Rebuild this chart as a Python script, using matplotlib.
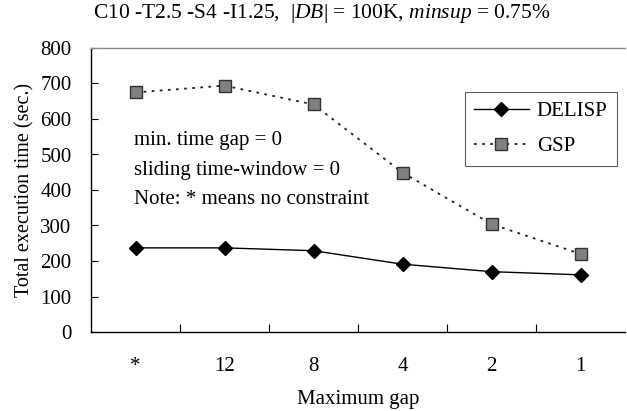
import matplotlib
matplotlib.use("Agg")
import matplotlib.pyplot as plt

plt.rcParams['font.family'] = ['Liberation Serif', 'DejaVu Serif']
plt.rcParams['mathtext.fontset'] = 'custom'
plt.rcParams['mathtext.rm'] = 'Liberation Serif'
plt.rcParams['mathtext.it'] = 'Liberation Serif:italic'

categories = ['*', '12', '8', '4', '2', '1']
delisp = [237, 237, 229, 191, 170, 161]
gsp = [675, 694, 641, 449, 304, 220]
yticks = [0, 100, 200, 300, 400, 500, 600, 700, 800]

fig = plt.figure(figsize=(6.27, 4.11), dpi=100)
ax = fig.add_axes([91/627, 1-332/411, 534/627, 284/411])

x = list(range(len(categories)))
ax.plot(x, delisp, color='black', lw=1.0, marker='D', markersize=7,
        markerfacecolor='black', markeredgecolor='black', label='DELISP')
ax.plot(x, gsp, color='#222222', lw=1.3, linestyle=(0, (1.5, 3)), marker='s', markersize=8,
        markerfacecolor='#808080', markeredgecolor='#333333', markeredgewidth=1.0, label='GSP')

ax.set_xlim(-0.5, len(categories) - 0.5)
ax.set_ylim(0, 800)
ax.set_yticks(yticks)
ax.set_yticklabels([str(v) for v in yticks], fontsize=15)
ax.set_xticks(x)
ax.set_xticklabels(categories, fontsize=15)
ax.set_xticks([i + 0.5 for i in x[:-1]], minor=True)
ax.tick_params(axis='x', which='major', length=0, pad=18)
ax.tick_params(axis='x', which='minor', direction='in', length=6, width=0.8)
ax.tick_params(axis='y', direction='in', length=5, width=0.8, pad=14)

ax.spines['right'].set_visible(False)
ax.spines['top'].set_color('#888888')
ax.spines['top'].set_linewidth(1.0)
ax.spines['left'].set_linewidth(1.0)
ax.spines['bottom'].set_linewidth(1.0)

ax.set_xlabel('Maximum gap', fontsize=15, labelpad=10)
ax.set_ylabel('Total execution time (sec.)', fontsize=14.5, labelpad=4)

ax.text(0.08, 0.676, 'min. time gap = 0', transform=ax.transAxes, fontsize=15, va='center')
ax.text(0.08, 0.570, 'sliding time-window = 0', transform=ax.transAxes, fontsize=15, va='center')
ax.text(0.08, 0.465, 'Note: * means no constraint', transform=ax.transAxes, fontsize=15, va='center')

leg = ax.legend(loc='upper right', bbox_to_anchor=(0.985, 0.845), borderaxespad=0, fontsize=15,
                frameon=True, fancybox=False, edgecolor='#333333', handlelength=2.6,
                borderpad=0.45, labelspacing=0.75, handletextpad=0.4)
leg.get_frame().set_linewidth(0.8)

fig.text(0.514, 0.966,
         r'C$\mathit{10}$ -T$\mathit{2.5}$ -S4 -I$\mathit{1.25}$,  |$\mathit{DB}$| = 100K, $\mathit{minsup}$ = 0.75%',
         ha='center', va='center', fontsize=15.5)

fig.savefig('out.png', dpi=100)
